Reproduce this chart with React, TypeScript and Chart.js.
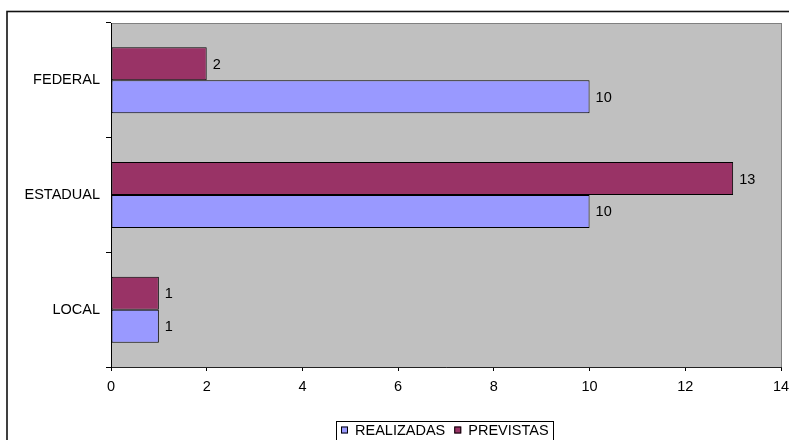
import React, { useEffect, useRef } from "react";
import { Chart, registerables } from "chart.js";

Chart.register(...registerables);

const categories = ["FEDERAL", "ESTADUAL", "LOCAL"];
const realizadas = [10, 10, 1];
const previstas = [2, 13, 1];
const xMin = 0;
const xMax = 14;
const xStep = 2;

const seriesNames = { realizadas: "REALIZADAS", previstas: "PREVISTAS" };
const colors = { realizadas: "#9999FF", previstas: "#993366" };

const FONT_FAMILY = "'Liberation Sans', Arial, Helvetica, sans-serif";
const FONT_SIZE = 14.5;

const framePlugin = {
  id: "frame",
  beforeDraw(chart: any) {
    const { ctx, chartArea, width, height } = chart;
    ctx.save();
    ctx.fillStyle = "#ffffff";
    ctx.fillRect(0, 0, width, height);
    ctx.strokeStyle = "#111111";
    ctx.lineWidth = 1.6;
    ctx.strokeRect(7, 11.5, width + 10, height + 10);
    const { left, top, right, bottom } = chartArea;
    ctx.fillStyle = "#C0C0C0";
    ctx.fillRect(left, top, right - left, bottom - top);
    ctx.strokeStyle = "#808080";
    ctx.lineWidth = 1;
    ctx.strokeRect(left + 0.5, top + 0.5, right - left, bottom - top);
    ctx.restore();
  },
  afterDatasetsDraw(chart: any) {
    const { ctx } = chart;
    ctx.save();
    ctx.font = `${FONT_SIZE}px ${FONT_FAMILY}`;
    ctx.fillStyle = "#000000";
    ctx.textAlign = "left";
    ctx.textBaseline = "middle";
    chart.data.datasets.forEach((ds: any, i: number) => {
      const meta = chart.getDatasetMeta(i);
      meta.data.forEach((el: any, j: number) => {
        ctx.fillText(String(ds.data[j]), el.x + 6, el.y + 1);
      });
    });
    ctx.restore();
  },
  afterDraw(chart: any) {
    const { ctx, chartArea, height } = chart;
    ctx.save();
    ctx.font = `${FONT_SIZE}px ${FONT_FAMILY}`;
    const items = [...chart.data.datasets].reverse().map((ds: any) => ({
      label: ds.label,
      color: ds.backgroundColor,
    }));
    const padL = 5, box = 7, gapBox = 7, gapItem = 9, padR = 4;
    const widths = items.map((it) => ctx.measureText(it.label).width);
    let total = padL + padR;
    widths.forEach((w, i) => {
      total += box + gapBox + w + (i < items.length - 1 ? gapItem : 0);
    });
    total = Math.round(total);
    const cx = (chartArea.left + chartArea.right) / 2 - 2;
    const lx = Math.round(cx - total / 2);
    const ly = 421;
    ctx.strokeStyle = "#000000";
    ctx.lineWidth = 1;
    ctx.strokeRect(lx + 0.5, ly + 0.5, total, height - ly + 5);
    const cy = 430;
    let x = lx + padL;
    ctx.textBaseline = "middle";
    ctx.textAlign = "left";
    items.forEach((it, i) => {
      ctx.fillStyle = it.color;
      ctx.fillRect(x, cy - 3.5, box, box);
      ctx.strokeStyle = "#000000";
      ctx.strokeRect(x + 0.5, cy - 3.5 + 0.5, box - 1, box - 1);
      x += box + gapBox;
      ctx.fillStyle = "#000000";
      ctx.fillText(it.label, x, cy + 1);
      x += widths[i] + gapItem;
    });
    ctx.restore();
  },
};

export default function App() {
  const canvasRef = useRef<HTMLCanvasElement | null>(null);

  useEffect(() => {
    const canvas = canvasRef.current;
    if (!canvas) return;
    const font = { family: FONT_FAMILY, size: FONT_SIZE };
    const chart = new Chart(canvas, {
      type: "bar",
      data: {
        labels: categories,
        datasets: [
          {
            label: seriesNames.previstas,
            data: previstas,
            backgroundColor: colors.previstas,
            borderColor: "#000000",
            borderWidth: 1,
            borderSkipped: false,
          },
          {
            label: seriesNames.realizadas,
            data: realizadas,
            backgroundColor: colors.realizadas,
            borderColor: "#000000",
            borderWidth: 1,
            borderSkipped: false,
          },
        ],
      },
      options: {
        indexAxis: "y",
        animation: false,
        responsive: false,
        devicePixelRatio: 1,
        datasets: {
          bar: { categoryPercentage: 0.575, barPercentage: 1 },
        },
        layout: { padding: { left: 0, top: 23, right: 8, bottom: 0 } },
        plugins: {
          legend: { display: false },
          tooltip: { enabled: false },
        },
        scales: {
          x: {
            type: "linear",
            min: xMin,
            max: xMax,
            ticks: { stepSize: xStep, color: "#000000", font, padding: 7, maxRotation: 0 },
            grid: { display: true, drawOnChartArea: false, tickLength: 4, color: "#000000" },
            border: { display: true, color: "#222222", width: 1 },
            afterFit: (s: any) => {
              s.height = 73;
              s.paddingLeft = 0;
              s.paddingRight = 0;
            },
          },
          y: {
            type: "category",
            ticks: { color: "#000000", font, padding: 6 },
            grid: { display: true, drawOnChartArea: false, offset: true, tickLength: 5, color: "#000000" },
            border: { display: true, color: "#000000", width: 1 },
            afterFit: (s: any) => {
              s.width = 111;
              s.paddingTop = 0;
              s.paddingBottom = 0;
            },
          },
        },
      },
      plugins: [framePlugin],
    });
    return () => chart.destroy();
  }, []);

  return (
    <div style={{ position: "fixed", left: 0, top: 0, width: 789, height: 440 }}>
      <canvas ref={canvasRef} width={789} height={440} style={{ display: "block" }} />
    </div>
  );
}
